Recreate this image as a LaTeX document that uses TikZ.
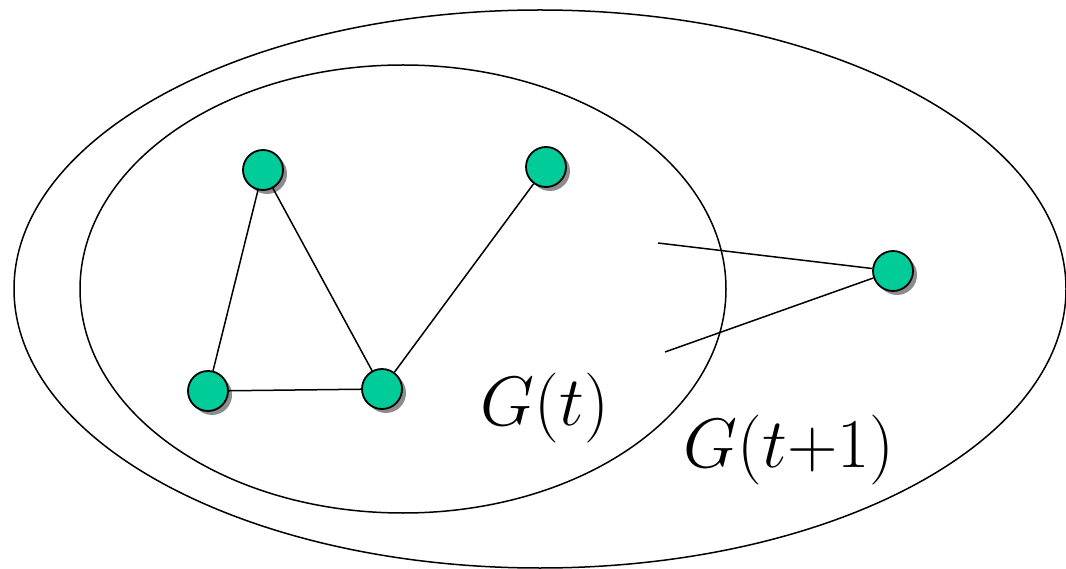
\RequirePackage{fix-cm}
\documentclass[tikz,border=0pt]{standalone}
\usetikzlibrary{shadows}
\begin{document}
\begin{tikzpicture}[x=1pt,y=-1pt,
  vert/.style={circle,draw=black,line width=1.8pt,fill={rgb,255:red,0;green,204;blue,153},minimum size=40pt,inner sep=0pt,
    drop shadow={shadow xshift=4pt,shadow yshift=-4pt,fill=black!45,opacity=1}},
  link/.style={line width=1.5pt},
  ring/.style={line width=1.5pt},
  lbl/.style={inner sep=0pt,font=\fontsize{70}{84}\selectfont}]
\useasboundingbox (0,0) rectangle (1066,569);
\draw[ring] (540,289) ellipse [x radius=526, y radius=279];
\draw[ring] (403,289) ellipse [x radius=323, y radius=224];
\node[vert] (a) at (263,170) {};
\node[vert] (b) at (546,167) {};
\node[vert] (c) at (208,391) {};
\node[vert] (d) at (382,389) {};
\node[vert] (e) at (893,271) {};
\coordinate (p) at (658,243);
\coordinate (q) at (665,352);
\draw[link] (a) -- (c);
\draw[link] (a) -- (d);
\draw[link] (c) -- (d);
\draw[link] (d) -- (b);
\draw[link] (e) -- (p);
\draw[link] (e) -- (q);
\node[lbl] (gt) at (545,408) {$G(t)$};
\node[lbl] (gt1) at (789,450) {$G(t{+}1)$};
\end{tikzpicture}
\end{document}
